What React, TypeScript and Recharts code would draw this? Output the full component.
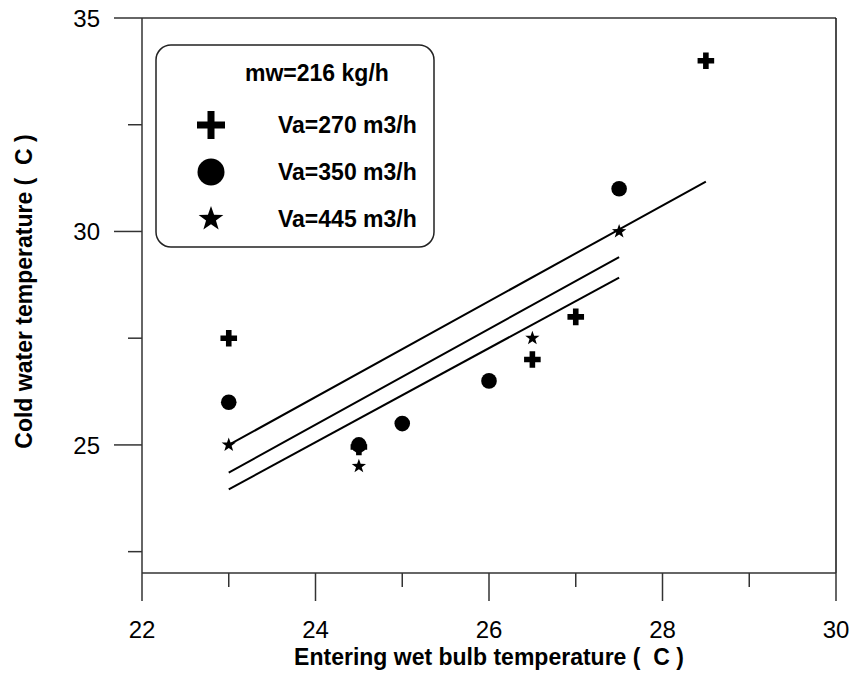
import { ComposedChart, XAxis, YAxis, Scatter, Line, ReferenceLine, Label, Legend } from "recharts"

const FONT = "'Liberation Sans', Arial, sans-serif"

const xTicks = [22, 23, 24, 25, 26, 27, 28, 29, 30]
const xLabelTicks = [22, 24, 26, 28, 30]
const yTicks = [22.5, 25, 27.5, 30, 32.5, 35]
const yLabelTicks = [25, 30, 35]

// measured points, Va = 270 / 350 / 445 m3/h
const va270 = [
  { x: 23, y: 27.5 },
  { x: 24.5, y: 24.95 },
  { x: 26.5, y: 27 },
  { x: 27, y: 28 },
  { x: 28.5, y: 34 }
]
const va350 = [
  { x: 23, y: 26 },
  { x: 24.5, y: 25 },
  { x: 25, y: 25.5 },
  { x: 26, y: 26.5 },
  { x: 27.5, y: 31 }
]
const va445 = [
  { x: 23, y: 25 },
  { x: 24.5, y: 24.5 },
  { x: 26, y: 26.5 },
  { x: 26.5, y: 27.5 },
  { x: 27.5, y: 30 }
]

// fitted lines
const fit270 = [
  { x: 23, y: 25.0 },
  { x: 28.5, y: 31.17 }
]
const fit350 = [
  { x: 23, y: 24.35 },
  { x: 27.5, y: 29.4 }
]
const fit445 = [
  { x: 23, y: 23.96 },
  { x: 27.5, y: 28.92 }
]

const legendTitle = "mw=216 kg/h"
const legendItems = [
  { name: "Va=270 m3/h", mark: "plus" },
  { name: "Va=350 m3/h", mark: "circle" },
  { name: "Va=445 m3/h", mark: "star" }
]

function plusPath(cx: number, cy: number, h: number, t: number) {
  return `M${cx - t},${cy - h}H${cx + t}V${cy - t}H${cx + h}V${cy + t}H${cx + t}V${cy + h}H${cx - t}V${cy + t}H${cx - h}V${cy - t}H${cx - t}Z`
}

function starPath(cx: number, cy: number, ro: number, ri: number) {
  let d = ""
  for (let i = 0; i < 10; i++) {
    const r = i % 2 === 0 ? ro : ri
    const a = -Math.PI / 2 + (i * Math.PI) / 5
    d += (i === 0 ? "M" : "L") + (cx + r * Math.cos(a)).toFixed(2) + "," + (cy + r * Math.sin(a)).toFixed(2)
  }
  return d + "Z"
}

function Mark({ kind, cx, cy, big }: { kind: string; cx: number; cy: number; big?: boolean }) {
  if (kind === "plus") {
    return <path d={plusPath(cx, cy, big ? 14 : 8.3, big ? 3.5 : 2.8)} fill="#000" />
  }
  if (kind === "circle") {
    return <circle cx={cx} cy={cy} r={big ? 13.5 : 7.8} fill="#000" />
  }
  return <path d={starPath(cx, cy, big ? 13 : 7.5, big ? 5.2 : 3)} fill="#000" />
}

function XTick({ x, y, payload }: any) {
  const major = xLabelTicks.includes(payload.value)
  return (
    <g>
      <line x1={x} x2={x} y1={y} y2={y + (major ? 28 : 14)} stroke="#333" strokeWidth={1.5} />
      {major && (
        <text x={x} y={y + 65} textAnchor="middle" fontSize={24} fontFamily={FONT} fill="#000">
          {payload.value}
        </text>
      )}
    </g>
  )
}

function YTick({ x, y, payload }: any) {
  const major = yLabelTicks.includes(payload.value)
  return (
    <g>
      <line x1={x - (major ? 28 : 14)} x2={x} y1={y} y2={y} stroke="#333" strokeWidth={1.5} />
      {major && (
        <text x={x - 42} y={y + 9} textAnchor="end" fontSize={24} fontFamily={FONT} fill="#000">
          {payload.value}
        </text>
      )}
    </g>
  )
}

function LegendBox() {
  return (
    <svg width={282} height={206} style={{ display: "block" }}>
      <rect x={1} y={1} width={278} height={202} rx={15} fill="#fff" stroke="#222" strokeWidth={1.5} />
      <text x={90} y={37} fontSize={23} fontWeight="bold" fontFamily={FONT} fill="#000">
        {legendTitle}
      </text>
      {legendItems.map((it, i) => (
        <g key={it.name}>
          <Mark kind={it.mark} cx={56} cy={81 + i * 47} big />
          <text x={123} y={89 + i * 47} fontSize={23} fontWeight="bold" fontFamily={FONT} fill="#000">
            {it.name}
          </text>
        </g>
      ))}
    </svg>
  )
}

export default function App() {
  return (
    <div style={{ position: "relative", width: 855, height: 674 }}>
      <style>{"body{margin:0}"}</style>
      <ComposedChart width={855} height={674} margin={{ top: 18, right: 19, bottom: 0, left: 0 }}>
        <XAxis
          type="number"
          dataKey="x"
          domain={[22, 30]}
          ticks={xTicks}
          interval={0}
          tickSize={0}
          tickMargin={0}
          tick={<XTick />}
          height={101}
          stroke="#333"
          strokeWidth={1.5}
        >
          <Label
            content={({ viewBox }: any) => (
              <text
                x={viewBox.x + viewBox.width / 2}
                y={viewBox.y + 92}
                textAnchor="middle"
                fontSize={23}
                fontWeight="bold"
                fontFamily={FONT}
                fill="#000"
                style={{ whiteSpace: "pre" }}
              >
                {"Entering wet bulb temperature (  C )"}
              </text>
            )}
          />
        </XAxis>
        <YAxis
          type="number"
          dataKey="y"
          domain={[22, 35]}
          ticks={yTicks}
          interval={0}
          tickSize={0}
          tickMargin={0}
          tick={<YTick />}
          width={142}
          stroke="#333"
          strokeWidth={1.5}
        >
          <Label
            content={({ viewBox }: any) => {
              const cx = viewBox.x + 24
              const cy = viewBox.y + viewBox.height / 2 - 4
              return (
                <text
                  x={cx}
                  y={cy}
                  transform={`rotate(-90 ${cx} ${cy})`}
                  textAnchor="middle"
                  dominantBaseline="central"
                  fontSize={23}
                  fontWeight="bold"
                  fontFamily={FONT}
                  fill="#000"
                  style={{ whiteSpace: "pre" }}
                >
                  {"Cold water temperature (  C )"}
                </text>
              )
            }}
          />
        </YAxis>
        <ReferenceLine y={35} stroke="#333" strokeWidth={1.5} />
        <ReferenceLine x={30} stroke="#111" strokeWidth={1.5} />

        <Line data={fit270} dataKey="y" stroke="#000" strokeWidth={2} dot={false} legendType="none" isAnimationActive={false} />
        <Line data={fit350} dataKey="y" stroke="#000" strokeWidth={2} dot={false} legendType="none" isAnimationActive={false} />
        <Line data={fit445} dataKey="y" stroke="#000" strokeWidth={2} dot={false} legendType="none" isAnimationActive={false} />

        <Scatter name="Va=270 m3/h" data={va270} dataKey="y" isAnimationActive={false}
          shape={(p: any) => <Mark kind="plus" cx={p.cx} cy={p.cy} />} />
        <Scatter name="Va=350 m3/h" data={va350} dataKey="y" isAnimationActive={false}
          shape={(p: any) => <Mark kind="circle" cx={p.cx} cy={p.cy} />} />
        <Scatter name="Va=445 m3/h" data={va445} dataKey="y" isAnimationActive={false}
          shape={(p: any) => <Mark kind="star" cx={p.cx} cy={p.cy} />} />

        <Legend
          layout="vertical"
          align="center"
          verticalAlign="middle"
          content={() => <LegendBox />}
          wrapperStyle={{ left: 155, top: 44, width: 282, height: 206, bottom: "auto", right: "auto" }}
        />
      </ComposedChart>
    </div>
  )
}
